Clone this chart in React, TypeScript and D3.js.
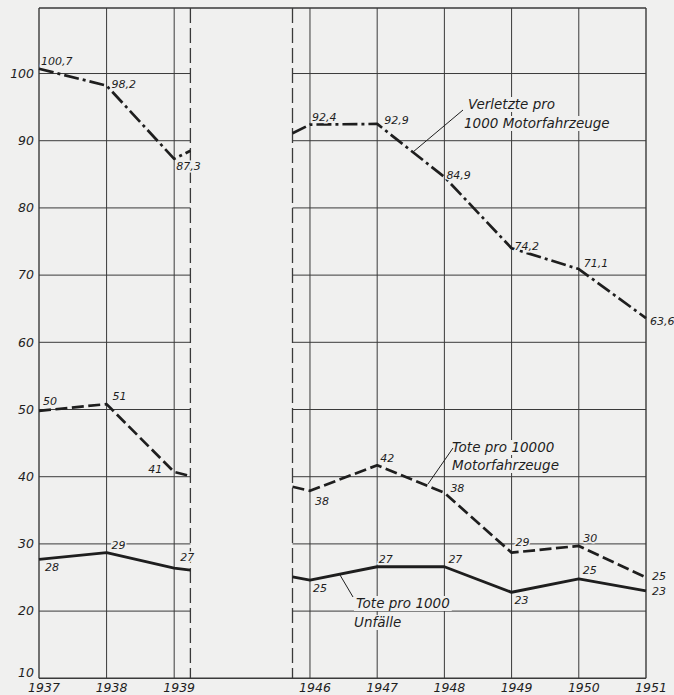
import React, { useEffect, useRef } from "react";
import * as d3 from "d3";

const W = 674;
const H = 695;

const years = [1937, 1938, 1939, 1946, 1947, 1948, 1949, 1950, 1951];
const yearLabels = ["1937", "1938", "1939", "1946", "1947", "1948", "1949", "1950", "1951"];
const yTicks = [10, 20, 30, 40, 50, 60, 70, 80, 90, 100];
const breakYears = [1939.24, 1945.74];
const yTop = 109.75;

// plotted values and their printed labels
const verletzte = [100.7, 98.2, 87.3, 92.4, 92.5, 84.6, 74.0, 70.9, 63.6];
const verletzteBreak = [88.5, 91.1];
const verletzteLabels = ["100,7", "98,2", "87,3", "92,4", "92,9", "84,9", "74,2", "71,1", "63,6"];

const tote10000 = [49.8, 50.8, 40.7, 37.9, 41.7, 37.6, 28.7, 29.7, 25.0];
const tote10000Break = [40.1, 38.5];
const tote10000Labels = ["50", "51", "41", "38", "42", "38", "29", "30", "25"];

const tote1000 = [27.7, 28.7, 26.4, 24.6, 26.6, 26.6, 22.8, 24.8, 23.0];
const tote1000Break = [26.1, 25.1];
const tote1000Labels = ["28", "29", "27", "25", "27", "27", "23", "25", "23"];

// label placement (layout)
const verletzteOff = [[2, -4], [5, 2], [2, 11], [2, -4], [7, 0], [2, 2], [3, 1.5], [5, -2], [4, 7]];
const tote10000Off = [[4, -6], [6, -4], [-26, 1], [5, 14], [3, -3], [6, -1], [4, -7], [4.5, -4], [6, 2]];
const tote1000Off = [[6, 12], [5, -4], [6, -7], [3, 12], [1.5, -4], [4, -4], [3, 12], [4, -5], [6, 4]];

const BG = "#f0f0ef";
const INK = "#1e1e1e";
const GRID = "#3a3a3a";
const FONT = "'DejaVu Sans', sans-serif";

export default function App() {
  const ref = useRef<SVGSVGElement | null>(null);

  useEffect(() => {
    const svg = d3.select(ref.current);
    svg.selectAll("*").remove();

    const x = d3
      .scaleLinear()
      .domain([1937, breakYears[0], breakYears[1], 1951])
      .range([39, 190.4, 292.5, 646]);
    const y = d3.scaleLinear().domain([10, yTop]).range([678.3, 8]);

    svg.append("rect").attr("width", W).attr("height", H).attr("fill", BG);

    const g = svg.append("g");
    const x0 = x(1937), x1 = x(1951), xbL = x(breakYears[0]), xbR = x(breakYears[1]);
    const yB = y(10), yT = y(yTop);

    // horizontal gridlines in two segments
    yTicks.filter((t) => t > 10).forEach((t) => {
      g.append("line").attr("x1", x0).attr("x2", xbL).attr("y1", y(t)).attr("y2", y(t))
        .attr("stroke", GRID).attr("stroke-width", 1);
      g.append("line").attr("x1", xbR).attr("x2", x1).attr("y1", y(t)).attr("y2", y(t))
        .attr("stroke", GRID).attr("stroke-width", 1);
    });
    // vertical gridlines
    years.forEach((yr) => {
      const border = yr === 1937 || yr === 1951;
      g.append("line").attr("x1", x(yr)).attr("x2", x(yr)).attr("y1", yT).attr("y2", yB)
        .attr("stroke", GRID).attr("stroke-width", border ? 1.4 : 1);
    });
    // top and bottom borders
    [yT, yB].forEach((yy) => {
      g.append("line").attr("x1", x0).attr("x2", x1).attr("y1", yy).attr("y2", yy)
        .attr("stroke", GRID).attr("stroke-width", 1.4);
    });
    // break lines
    breakYears.forEach((b) => {
      g.append("line").attr("x1", x(b)).attr("x2", x(b)).attr("y1", yT).attr("y2", yB)
        .attr("stroke", GRID).attr("stroke-width", 1.3).attr("stroke-dasharray", "15,5");
    });

    // tick labels
    yTicks.forEach((t) => {
      g.append("text").attr("x", 34).attr("y", t === 10 ? y(t) - 1 : y(t))
        .attr("dy", t === 10 ? 0 : "0.35em")
        .attr("text-anchor", "end").attr("font-family", FONT).attr("font-style", "italic")
        .attr("font-size", 12.5).attr("fill", INK).text(String(t));
    });
    years.forEach((yr, i) => {
      g.append("text").attr("x", x(yr) + 5).attr("y", 692).attr("text-anchor", "middle")
        .attr("font-family", FONT).attr("font-style", "italic").attr("font-size", 12.5)
        .attr("fill", INK).text(yearLabels[i]);
    });

    // annotations with background
    const annotations = [
      { lines: ["Verletzte pro", "1000 Motorfahrzeuge"], xs: [468, 464], ys: [109, 128], leader: [463, 110, 413, 152] },
      { lines: ["Tote pro 10000", "Motorfahrzeuge"], xs: [452, 452], ys: [452, 470], leader: [453, 448, 428, 484] },
      { lines: ["Tote pro 1000", "Unfälle"], xs: [356, 354], ys: [608, 627], leader: [353, 597, 340, 575] },
    ];

    const series = [
      { vals: verletzte, brk: verletzteBreak, dash: "15,4,3,4", w: 2.7 },
      { vals: tote10000, brk: tote10000Break, dash: "12,4.5", w: 2.7 },
      { vals: tote1000, brk: tote1000Break, dash: null, w: 2.9 },
    ];

    const line = d3.line<[number, number]>().x((d) => x(d[0])).y((d) => y(d[1]));

    // annotation backgrounds (drawn before the lines)
    const annG = svg.append("g");
    annotations.forEach((a) => {
      a.lines.forEach((s, i) => {
        const tg = annG.append("g");
        tg.append("text").attr("x", a.xs[i]).attr("y", a.ys[i]).attr("font-family", FONT)
          .attr("font-style", "italic").attr("font-size", 13.5).attr("fill", INK).text(s);
        const bb = (tg.node() as SVGGElement).getBBox();
        tg.insert("rect", "text").attr("x", bb.x - 2).attr("y", bb.y + 1).attr("width", bb.width + 4)
          .attr("height", bb.height - 1).attr("fill", BG);
      });
      annG.append("line").attr("x1", a.leader[0]).attr("y1", a.leader[1])
        .attr("x2", a.leader[2]).attr("y2", a.leader[3]).attr("stroke", INK).attr("stroke-width", 1);
    });

    series.forEach((s) => {
      const left: [number, number][] = [0, 1, 2].map((i) => [years[i], s.vals[i]] as [number, number]);
      left.push([breakYears[0], s.brk[0]]);
      const right: [number, number][] = [[breakYears[1], s.brk[1]]];
      for (let i = 3; i < years.length; i++) right.push([years[i], s.vals[i]]);
      [left, right].forEach((pts) => {
        const p = svg.append("path").attr("d", line(pts)).attr("fill", "none")
          .attr("stroke", INK).attr("stroke-width", s.w).attr("stroke-linejoin", "round");
        if (s.dash) p.attr("stroke-dasharray", s.dash);
      });
    });

    // data labels
    const labelSets = [
      { vals: verletzte, labels: verletzteLabels, off: verletzteOff },
      { vals: tote10000, labels: tote10000Labels, off: tote10000Off },
      { vals: tote1000, labels: tote1000Labels, off: tote1000Off },
    ];
    labelSets.forEach((ls) => {
      ls.vals.forEach((v, i) => {
        svg.append("text").attr("x", x(years[i]) + ls.off[i][0]).attr("y", y(v) + ls.off[i][1])
          .attr("font-family", FONT).attr("font-style", "italic").attr("font-size", 11)
          .attr("fill", INK).attr("stroke", BG).attr("stroke-width", 3)
          .attr("paint-order", "stroke").text(ls.labels[i]);
      });
    });
  }, []);

  return (
    <svg
      ref={ref}
      width={W}
      height={H}
      style={{ position: "absolute", left: 0, top: 0, display: "block" }}
    />
  );
}
